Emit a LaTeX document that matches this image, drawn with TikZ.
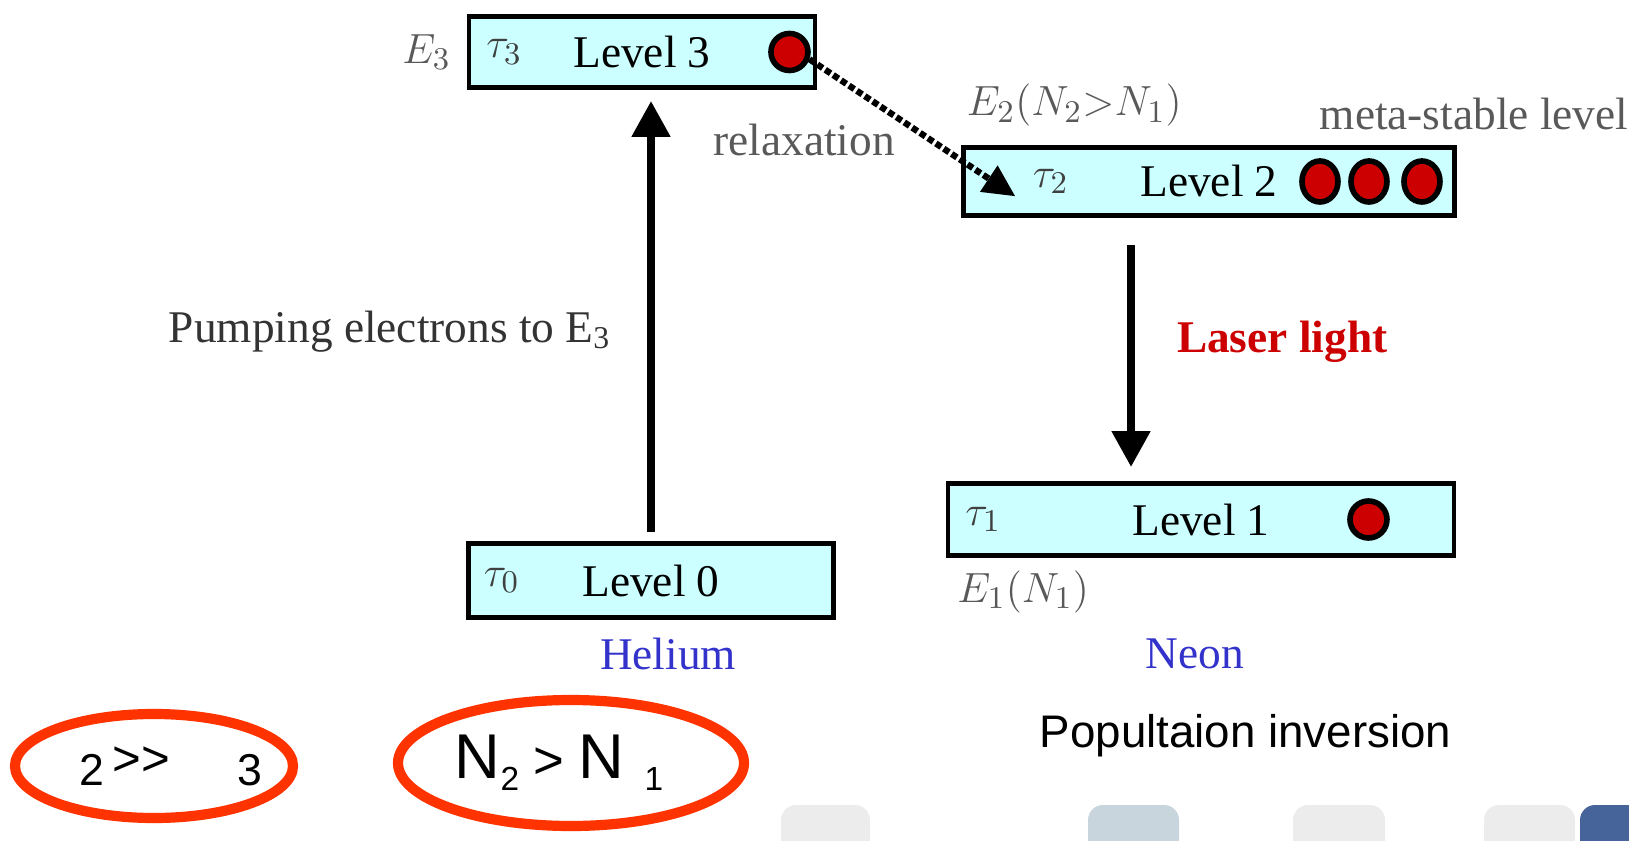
\documentclass[tikz,border=0pt]{standalone}
\usepackage{fontspec}
\setmainfont{Liberation Serif}
\setsansfont{Liberation Sans}
\usepackage{xcolor}
\definecolor{levelcyan}{RGB}{204, 255, 255}
\definecolor{dotred}{RGB}{204, 0, 0}
\definecolor{ringred}{RGB}{255, 51, 0}
\definecolor{gasblue}{RGB}{51, 51, 204}
\definecolor{tabgray}{RGB}{236, 236, 236}
\definecolor{tabsteel}{RGB}{200, 213, 221}
\definecolor{tabblue}{RGB}{70, 99, 154}
\usepackage{tikz}
\usetikzlibrary{arrows.meta, positioning, shapes.geometric}

\begin{document}
\begin{tikzpicture}[
        level/.style={rectangle, draw=black, line width=1.4pt, fill=levelcyan, inner sep=0pt, font=\fontsize{12.9}{15}\selectfont},
        dot/.style={circle, draw=black, line width=1.6pt, fill=dotred, minimum size=0.37cm, inner sep=0pt},
        txt/.style={inner sep=0pt, font=\fontsize{12.9}{15}\selectfont},
        graytxt/.style={txt, text=black!65},
        tautxt/.style={txt, text=black!75},
        lasertxt/.style={txt, text=dotred, font=\fontsize{12.9}{15}\selectfont\bfseries},
        gastxt/.style={txt, text=gasblue},
        ring/.style={ellipse, draw=ringred, line width=2.9pt, inner sep=0pt, font=\sffamily\fontsize{18}{20}\selectfont},
        line/.style={draw=black, line width=2.3pt, -{Triangle[width=0.37cm, length=0.36cm]}},
        relaxline/.style={draw=black, line width=1.8pt, dash pattern=on 1.8pt off 0.9pt, -{Triangle[width=0.3cm, length=0.32cm]}}]

        \clip (0,0) rectangle (16.29,8.40);

        % Pestañas grises del borde inferior
        \fill [tabgray, rounded corners=0.15cm] (7.81,-0.3) rectangle (8.70,0.35);
        \fill [tabsteel, rounded corners=0.15cm] (10.88,-0.3) rectangle (11.79,0.35);
        \fill [tabgray, rounded corners=0.15cm] (12.93,-0.3) rectangle (13.85,0.35);
        \fill [tabgray, rounded corners=0.15cm] (14.84,-0.3) rectangle (15.75,0.35);
        \fill [tabblue, rounded corners=0.15cm] (15.80,-0.3) rectangle (16.60,0.35);

        % Niveles de energía
        \node [level, minimum width=3.46cm, minimum height=0.71cm] (lvl3) at (6.42,7.88) {Level 3};
        \node [level, minimum width=4.91cm, minimum height=0.68cm] (lvl2) at (12.09,6.585) {Level 2};
        \node [level, minimum width=5.06cm, minimum height=0.72cm] (lvl1) at (12.01,3.205) {Level 1};
        \node [level, minimum width=3.65cm, minimum height=0.74cm] (lvl0) at (6.51,2.595) {Level 0};

        % Tiempos de vida
        \node [tautxt, right=0.19cm of lvl3.west] (tau3) {$\tau_3$};
        \node [tautxt, right=0.71cm of lvl2.west] (tau2) {$\tau_2$};
        \node [tautxt, right=0.19cm of lvl1.west] (tau1) {$\tau_1$};
        \node [tautxt, right=0.17cm of lvl0.west] (tau0) {$\tau_0$};

        % Electrones
        \node [dot, xshift=-0.28cm] (dot3) at (lvl3.east) {};
        \node [dot, ellipse, minimum width=0.36cm, minimum height=0.41cm, xshift=-1.37cm] (dot2a) at (lvl2.east) {};
        \node [dot, ellipse, minimum width=0.36cm, minimum height=0.41cm, xshift=-0.88cm] (dot2b) at (lvl2.east) {};
        \node [dot, ellipse, minimum width=0.36cm, minimum height=0.41cm, xshift=-0.35cm] (dot2c) at (lvl2.east) {};
        \node [dot, xshift=-0.88cm] (dot1) at (lvl1.east) {};

        % Etiquetas de energía
        \node [graytxt, left=0.15cm of lvl3] (e3) {$E_3$};
        \node [graytxt, above right=0.18cm and 0.05cm of lvl2.north west] (e2) {$E_2(N_2{>}N_1)$};
        \node [graytxt, below right=0.12cm and 0.11cm of lvl1.south west] (e1) {$E_1(N_1)$};
        \node [graytxt, anchor=base west] (meta) at (13.19,7.10) {meta-stable level};
        \node [graytxt] (relaxlbl) at (8.04,7.00) {relaxation};

        % Gases
        \node [gastxt, below=0.17cm of lvl0, xshift=0.17cm] (helium) {Helium};
        \node [gastxt, below=0.80cm of lvl1, xshift=-0.06cm] (neon) {Neon};

        % Transiciones
        \path [line, shorten <=0.09cm, shorten >=0.11cm] (lvl0.north) -- node [txt, text=black!80, pos=0.465, left=0.36cm] (pumplbl) {Pumping electrons to E\textsubscript{3}} (lvl0.north |- lvl3.south);
        \coordinate (lasertop) at ([xshift=-0.78cm]lvl2.south);
        \path [line, shorten <=0.27cm, shorten >=0.14cm] (lasertop) -- node [lasertxt, pos=0.47, right=0.42cm] (laserlbl) {Laser light} (lasertop |- lvl1.north);
        \path [relaxline, shorten >=0.2cm] (dot3.-20) -- ([yshift=-0.13cm]tau2.south west);

        % Inversión de población
        \node [inner sep=0pt, anchor=base west, font=\sffamily\fontsize{13}{15}\selectfont] (popinv) at (10.39,0.93) {Popultaion inversion};
        \node [ring, minimum width=2.78cm, minimum height=1.04cm] (ring1) at (1.54,0.74)
            {\makebox[0pt]{\hspace{0.34cm}{\fontsize{12.7}{14}\selectfont 2}\hspace{0.08cm}\raisebox{0.1cm}{\fontsize{14}{16}\selectfont >{}>}\hspace{0.67cm}{\fontsize{12.7}{14}\selectfont 3}}};
        \node [ring, minimum width=3.46cm, minimum height=1.26cm] (ring2) at (5.71,0.77)
            {\makebox[0pt]{\hspace{-0.24cm}N\raisebox{-0.12cm}{\fontsize{9.5}{11}\selectfont 2}\hspace{0.14cm}{\fontsize{15}{17}\selectfont >}\hspace{0.15cm}N\hspace{0.2cm}\raisebox{-0.12cm}{\fontsize{9.5}{11}\selectfont 1}}};
    \end{tikzpicture}
\end{document}
